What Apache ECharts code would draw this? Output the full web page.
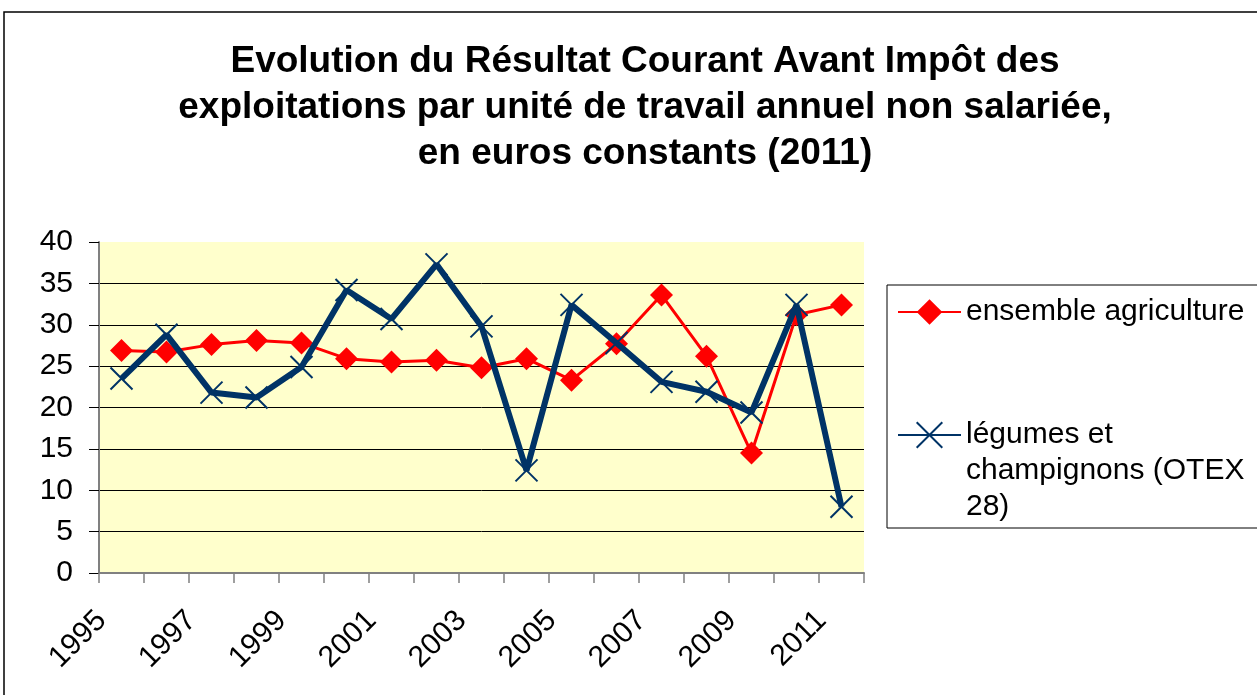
<!DOCTYPE html>
<html>
<head>
<meta charset="utf-8">
<script src="https://cdn.jsdelivr.net/npm/echarts@6/dist/echarts.min.js"></script>
<style>
  html, body { margin: 0; padding: 0; background: #fff; }
  #chart { width: 1257px; height: 695px; }
</style>
</head>
<body>
<div id="chart"></div>
<script>
// données
var annees = ['1995', '1996', '1997', '1998', '1999', '2000', '2001', '2002', '2003',
    '2004', '2005', '2006', '2007', '2008', '2009', '2010', '2011'];
var ensembleAgriculture = [26.9, 26.7, 27.6, 28.1, 27.8, 25.9, 25.5, 25.7, 24.8,
    25.9, 23.3, 27.7, 33.6, 26.2, 14.5, 31.2, 32.4];
var legumesChampignons = [23.5, 28.8, 21.8, 21.2, 24.9, 34.2, 30.7, 37.3, 29.8,
    12.4, 32.4, 27.8, 23.1, 21.9, 19.4, 32.4, 8.0];

var police = '"Liberation Sans", Arial, sans-serif';

var myChart = echarts.init(document.getElementById('chart'));

var option = {
    backgroundColor: '#fff',
    animation: false,
    textStyle: { fontFamily: police },
    title: {
        text: 'Evolution du Résultat Courant Avant Impôt des\nexploitations par unité de travail annuel non salariée,\nen euros constants (2011)',
        left: 640,
        top: 34,
        textAlign: 'center',
        textStyle: {
            fontFamily: police,
            fontSize: 37,
            fontWeight: 'bold',
            color: '#000',
            lineHeight: 46
        }
    },
    graphic: [{
        type: 'rect',
        shape: { x: 4, y: 12, width: 1300, height: 800 },
        style: { fill: 'none', stroke: '#000', lineWidth: 1.5 },
        silent: true
    }],
    grid: {
        left: 99,
        right: 393,
        top: 242,
        bottom: 122,
        show: true,
        backgroundColor: '#FFFFCC',
        borderWidth: 0
    },
    legend: {
        orient: 'vertical',
        left: 887,
        top: 285,
        padding: [9, 40, 3, 10],
        itemGap: 15,
        itemWidth: 63,
        itemHeight: 32,
        borderColor: '#000',
        borderWidth: 1,
        textStyle: {
            fontFamily: police,
            fontSize: 30,
            color: '#000',
            lineHeight: 36
        },
        data: ['ensemble agriculture', 'légumes et champignons (OTEX 28)'],
        formatter: function (name) {
            if (name === 'ensemble agriculture') return name;
            return '\n\nlégumes et\nchampignons (OTEX\n28)';
        }
    },
    xAxis: {
        type: 'category',
        data: annees,
        boundaryGap: true,
        axisLine: { lineStyle: { color: '#808080', width: 2 } },
        axisTick: { show: true, interval: 0, length: 10, lineStyle: { color: '#808080', width: 1.5 } },
        axisLabel: {
            interval: 1,
            rotate: 45,
            margin: 23,
            padding: [0, 28, 0, 0],
            fontSize: 30,
            color: '#000',
            fontFamily: police
        },
        splitLine: { show: false }
    },
    yAxis: {
        type: 'value',
        min: 0,
        max: 40,
        interval: 5,
        axisLine: { show: true, lineStyle: { color: '#808080', width: 2 } },
        axisTick: { show: true, length: 10, lineStyle: { color: '#000', width: 1 } },
        axisLabel: {
            margin: 26,
            fontSize: 30,
            color: '#000',
            fontFamily: police
        },
        splitLine: {
            show: true,
            lineStyle: {
                color: ['#000', '#000', '#000', '#000', '#000', '#000', '#000', '#000', 'transparent'],
                width: 1
            }
        }
    },
    series: [
        {
            name: 'ensemble agriculture',
            type: 'line',
            data: ensembleAgriculture,
            symbol: 'diamond',
            symbolSize: 23,
            showAllSymbol: true,
            color: '#FF0000',
            lineStyle: { color: '#FF0000', width: 3 },
            itemStyle: { color: '#FF0000' },
            z: 2
        },
        {
            name: 'légumes et champignons (OTEX 28)',
            type: 'line',
            data: legumesChampignons,
            symbol: 'path://M0,0L10,10M10,0L0,10',
            symbolSize: 22,
            showAllSymbol: true,
            color: '#003366',
            lineStyle: { color: '#003366', width: 6 },
            itemStyle: { color: '#003366', borderColor: '#003366', borderWidth: 2 },
            z: 3
        }
    ]
};

myChart.setOption(option);
window.addEventListener('resize', function () {
    myChart.resize();
});
</script>
</body>
</html>
